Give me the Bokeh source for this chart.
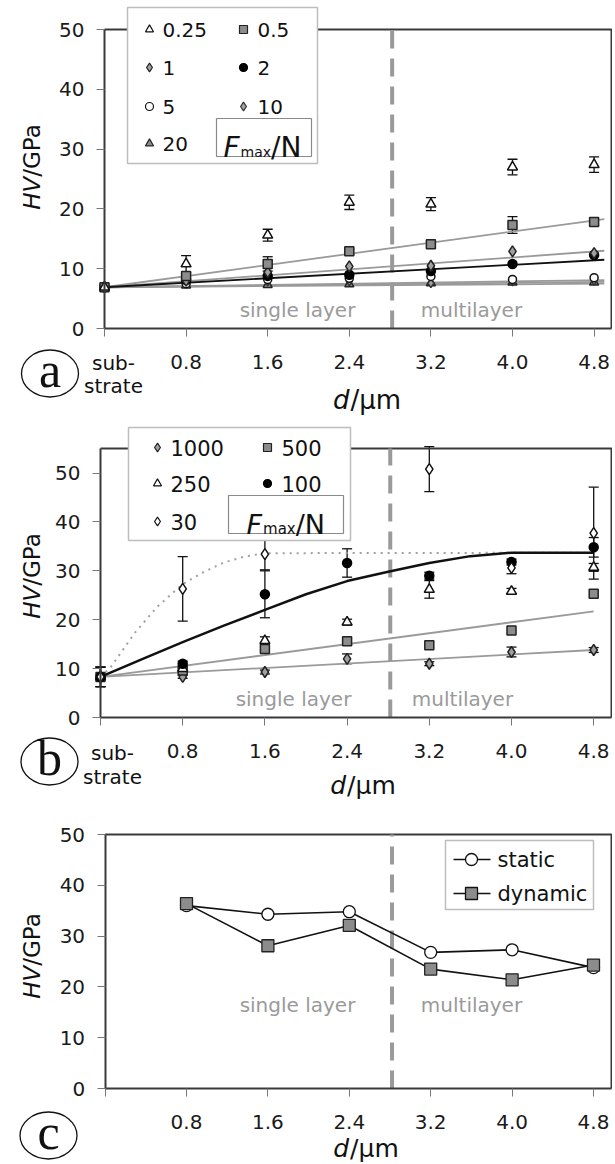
import math
from bokeh.plotting import figure
from bokeh.layouts import column
from bokeh.models import (FixedTicker, Range1d, Whisker, ColumnDataSource, TeeHead,
                          PrintfTickFormatter)
from bokeh.embed import file_html
from bokeh.resources import INLINE
from bokeh.core.properties import value

# ---------------- data ----------------
thickness = [0.0, 0.8, 1.6, 2.4, 3.2, 4.0, 4.8]          # d / um, 0 = substrate
x_ticks = [0.0, 0.8, 1.6, 2.4, 3.2, 4.0, 4.8]
x_tick_labels = ["", "0.8", "1.6", "2.4", "3.2", "4.0", "4.8"]
y_ticks = [0, 10, 20, 30, 40, 50]
interface_d = 2.82
region_labels = ["single layer", "multilayer"]

# (a)  F_max / N
loads_a = ["0.25", "0.5", "1", "2", "5", "10", "20"]
hv_a_025 = [6.9, 10.8, 15.6, 21.1, 20.8, 27.0, 27.4]
err_a_025 = [0.4, 1.4, 1.0, 1.2, 1.1, 1.3, 1.3]
hv_a_05 = [6.9, 8.8, 10.8, 12.9, 14.1, 17.3, 17.8]
err_a_05 = [0.3, 0.5, 1.2, 0.4, 0.5, 1.4, 0.5]
hv_a_1 = [6.9, 8.0, 9.4, 10.4, 10.5, 12.9, 12.6]
hv_a_2 = [6.9, 8.1, 8.8, 9.0, 9.6, 10.8, 12.3]
hv_a_5 = [6.9, 7.5, 8.2, 8.4, 8.7, 8.2, 8.5]
hv_a_10 = [6.9, 7.6, 7.9, 7.9, 7.6, 7.9, 8.0]
hv_a_20 = [6.9, 7.2, 7.3, 7.4, 7.6, 7.7, 7.7]
fit_a_x = [0.0, 4.9]
fit_a_05 = [6.9, 18.3]
fit_a_1 = [6.9, 13.0]
fit_a_2 = [6.9, 11.5]
fit_a_5 = [6.9, 8.1]
fit_a_10 = [6.9, 7.8]
fit_a_20 = [6.9, 7.5]

# (b)  F_max / N
loads_b = ["1000", "500", "250", "100", "30"]
hv_b_1000 = [8.3, 8.3, 9.3, 12.0, 11.0, 13.4, 13.8]
err_b_1000 = [2.0, 0.3, 0.4, 1.0, 0.4, 1.0, 0.5]
hv_b_500 = [8.3, 9.6, 14.0, 15.6, 14.8, 17.8, 25.3]
hv_b_250 = [8.3, 10.0, 15.7, 19.5, 26.2, 25.8, 30.7]
err_b_250 = [2.0, 0.4, 0.8, 0.6, 1.8, 0.6, 0.8]
hv_b_100 = [8.3, 11.0, 25.2, 31.6, 29.0, 31.8, 34.8]
err_b_100 = [2.0, 0.5, 4.8, 2.9, 0.7, 0.6, 2.0]
thickness_b30 = [0.0, 0.8, 1.6, 3.2, 4.0, 4.8]
hv_b_30 = [8.3, 26.3, 33.4, 50.8, 30.6, 37.7]
err_b_30 = [2.0, 6.6, 3.2, 4.6, 1.2, 9.4]
fit_b_30_x = [0.0, 0.1, 0.33, 0.55, 0.8, 1.0, 1.2, 1.4, 1.6, 4.8]
fit_b_30_y = [8.3, 10.3, 17.2, 22.6, 27.3, 29.7, 31.7, 32.9, 33.6, 33.7]
fit_b_100_x = [0.0, 0.4, 0.8, 1.2, 1.6, 2.0, 2.4, 2.8, 3.2, 3.6, 4.0, 4.8]
fit_b_100_y = [8.3, 11.9, 15.4, 18.8, 22.0, 25.2, 27.9, 29.8, 31.6, 33.0, 33.7, 33.7]
fit_b_x = [0.0, 4.8]
fit_b_500 = [8.3, 21.7]
fit_b_1000 = [8.3, 13.8]

# (c)
thickness_c = [0.8, 1.6, 2.4, 3.2, 4.0, 4.8]
hv_static = [36.0, 34.3, 34.8, 26.8, 27.3, 23.8]
hv_dynamic = [36.4, 28.1, 32.1, 23.5, 21.4, 24.3]

# ---------------- styling / layout ----------------
FONT = "DejaVu Sans"
SERIF = "Liberation Serif"
W = 612
AX = "#3a3a3a"
GREY_TXT = "#9a9a9a"
FIT = "#9a9a9a"
INK = "#111111"

# top: page y of figure top, h: figure height, x0/y0: page position of data origin,
# kx/ky: pixels per data unit
GEO_A = dict(top=0, h=418, x0=104.0, y0=328.0, kx=102.0, ky=5.98)
GEO_B = dict(top=418, h=382, x0=100.0, y0=717.0, kx=102.75, ky=4.89)
GEO_C = dict(top=800, h=362, x0=104.6, y0=1088.0, kx=101.75, ky=5.08)


def X(g, sx):
    return (sx - g["x0"]) / g["kx"]


def Y(g, sy):
    return (g["y0"] - sy) / g["ky"]


def make_panel(g, y_top):
    p = figure(width=W, height=g["h"], title=None,
               x_range=Range1d(X(g, 0), X(g, W)),
               y_range=Range1d(Y(g, g["top"] + g["h"]), Y(g, g["top"])),
               output_backend="svg", toolbar_location=None,
               min_border=0, min_border_left=0, min_border_right=0,
               min_border_top=0, min_border_bottom=0)
    p.outline_line_color = None
    p.xgrid.visible = False
    p.ygrid.visible = False
    p.background_fill_color = "white"
    p.border_fill_color = "white"
    x_edge = X(g, 611)
    for ax in (p.xaxis[0], p.yaxis[0]):
        ax.fixed_location = 0
        ax.axis_line_color = AX
        ax.axis_line_width = 2
        ax.major_tick_line_color = "#777777"
        ax.major_tick_line_width = 1
        ax.major_tick_out = 8
        ax.major_tick_in = 0
        ax.minor_tick_line_color = None
        ax.major_label_text_font = FONT
        ax.major_label_text_font_size = "20px"
        ax.major_label_text_color = "#1a1a1a"
    p.yaxis.major_label_standoff = 12
    p.xaxis.major_label_standoff = 18
    p.yaxis.ticker = FixedTicker(ticks=y_ticks)
    p.yaxis.bounds = (0, y_top)
    p.xaxis.ticker = FixedTicker(ticks=x_ticks)
    p.xaxis.formatter = PrintfTickFormatter(format="%.1f")
    p.xaxis.major_label_overrides = dict(zip(x_ticks, x_tick_labels))
    p.xaxis.bounds = (0, x_edge)
    p.line([0, x_edge, x_edge], [y_top, y_top, 0], line_color=AX, line_width=2)
    p.line([interface_d, interface_d], [0, y_top], line_color="#9a9a9a", line_width=4,
           line_dash="18 10")
    return p


def txt(p, g, sx, sy, text, size, font=FONT, **kw):
    kw.setdefault("text_color", INK)
    kw.setdefault("text_baseline", "middle")
    p.text(x=[X(g, sx)], y=[Y(g, sy)], text=[text], text_font=value(font),
           text_font_size=f"{size}px", **kw)


def region_text(p, g, sx_single, sx_multi, sy):
    for label, sx in zip(region_labels, [sx_single, sx_multi]):
        txt(p, g, sx, sy, label, 20, text_color=GREY_TXT, text_align="center")


def axis_titles(p, g, hv_cx, hv_cy, d_cx, d_cy, hv_size=23, d_size=26):
    w_hv = 1.436 * hv_size
    w_gpa = 2.328 * hv_size
    a_sy = hv_cy + (w_hv + w_gpa) / 2 - w_hv
    txt(p, g, hv_cx, a_sy, "HV", hv_size, angle=math.pi / 2, text_align="right",
        text_font_style="italic")
    txt(p, g, hv_cx, a_sy, "/GPa", hv_size, angle=math.pi / 2, text_align="left")
    w_d = 0.635 * d_size
    w_um = 1.947 * d_size
    a_sx = d_cx - (w_d + w_um) / 2 + w_d
    txt(p, g, a_sx, d_cy, "d", d_size, text_align="right", text_font_style="italic")
    txt(p, g, a_sx + 1, d_cy, "/\u03bcm", d_size, text_align="left")


def panel_letter(p, g, letter, cx, cy, w=57, h=47):
    p.ellipse(x=[X(g, cx)], y=[Y(g, cy)], width=w, height=h, width_units="screen",
              height_units="screen", fill_color=None, line_color=INK, line_width=1.3)
    txt(p, g, cx, cy - 4, letter, 50, font=SERIF, text_align="center")


def substrate_label(p, g, cx, sy1, sy2):
    txt(p, g, cx, sy1, "sub-", 20, text_align="center")
    txt(p, g, cx, sy2, "strate", 20, text_align="center")


def whiskers(p, xs, hv, err):
    src = ColumnDataSource(dict(x=xs, lo=[v - e for v, e in zip(hv, err)],
                                hi=[v + e for v, e in zip(hv, err)]))
    p.add_layout(Whisker(source=src, base="x", lower="lo", upper="hi", line_color=INK,
                         line_width=1.3,
                         upper_head=TeeHead(size=10, line_color=INK, line_width=1.3),
                         lower_head=TeeHead(size=10, line_color=INK, line_width=1.3)))


def box(p, g, l, r, t, b, color, lw):
    p.quad(left=[X(g, l)], right=[X(g, r)], top=[Y(g, t)], bottom=[Y(g, b)],
           fill_color="white", line_color=color, line_width=lw)


def fmax_box(p, g, l, r, t, b, f_left, base, big, small):
    box(p, g, l, r, t, b, "#8a8a8a", 1.2)
    wf = 0.575 * big
    wm = 2.179 * small
    txt(p, g, f_left, base, "F", big, text_font_style="italic", text_baseline="alphabetic")
    txt(p, g, f_left + wf + 1, base + 4, "max", small, text_baseline="alphabetic")
    txt(p, g, f_left + wf + wm + 1, base, "/N", big, text_baseline="alphabetic")


def legend_entries(p, g, entries, styles, font_size, msize):
    xs, ys, labels = [], [], []
    for name, mx, my, tx in entries:
        st = styles[name]
        p.scatter([X(g, mx)], [Y(g, my)], marker=st["marker"], size=msize * st["lscale"],
                  fill_color=st["fill"], line_color=st["line"], line_width=1.2)
        xs.append(X(g, tx))
        ys.append(Y(g, my))
        labels.append(name)
    p.text(x=xs, y=ys, text=labels, text_font=value(FONT), text_font_size=f"{font_size}px",
           text_baseline="middle", text_align="left", text_color=INK)


# ---------------- panel (a) ----------------
style_a = {
    "0.25": dict(marker="triangle", fill="white", line=INK, size=10, lscale=1.0),
    "0.5": dict(marker="square", fill="#8c8c8c", line="#222222", size=9, lscale=1.0),
    "1": dict(marker="diamond", fill="#a0a0a0", line="#222222", size=11, lscale=1.1),
    "2": dict(marker="circle", fill="#000000", line="#000000", size=9, lscale=1.0),
    "5": dict(marker="circle", fill="white", line=INK, size=8, lscale=1.0),
    "10": dict(marker="diamond", fill="#a0a0a0", line="#333333", size=9, lscale=1.1),
    "20": dict(marker="triangle", fill="#8c8c8c", line="#222222", size=9, lscale=1.0),
}
g = GEO_A
pa = make_panel(g, 50)
for ys in [fit_a_20, fit_a_10, fit_a_5, fit_a_1, fit_a_05]:
    pa.line(fit_a_x, ys, line_color=FIT, line_width=1.8)
pa.line(fit_a_x, fit_a_2, line_color=INK, line_width=1.8)
whiskers(pa, thickness, hv_a_025, err_a_025)
whiskers(pa, thickness, hv_a_05, err_a_05)
series_a = {"0.25": hv_a_025, "0.5": hv_a_05, "1": hv_a_1, "2": hv_a_2,
            "5": hv_a_5, "10": hv_a_10, "20": hv_a_20}
for name in ["20", "10", "5", "2", "1", "0.5", "0.25"]:
    st = style_a[name]
    pa.scatter(thickness, series_a[name], marker=st["marker"], size=st["size"],
               fill_color=st["fill"], line_color=st["line"], line_width=1.5)
region_text(pa, g, 297, 471, 309)
box(pa, g, 127, 317, 7, 163, "#bdbdbd", 1.5)
legend_entries(pa, g, [("0.25", 149, 29, 162), ("0.5", 243, 29, 257),
                       ("1", 149, 67, 162), ("2", 243, 67, 257),
                       ("5", 149, 106, 162), ("10", 243, 106, 257),
                       ("20", 149, 143, 162)], style_a, 20, 8)
fmax_box(pa, g, 216, 311, 118, 156, 223, 147, 28, 14)
axis_titles(pa, g, 31, 166, 366, 399)
substrate_label(pa, g, 113, 362, 385)
panel_letter(pa, g, "a", 49.5, 373)

# ---------------- panel (b) ----------------
style_b = {
    "1000": dict(marker="diamond", fill="#a0a0a0", line="#222222", size=11, lscale=1.1),
    "500": dict(marker="square", fill="#8c8c8c", line="#222222", size=9, lscale=1.0),
    "250": dict(marker="triangle", fill="white", line=INK, size=10, lscale=1.0),
    "100": dict(marker="circle", fill="#000000", line="#000000", size=9, lscale=1.0),
    "30": dict(marker="diamond", fill="white", line=INK, size=11, lscale=1.1),
}
g = GEO_B
pb = make_panel(g, 55)
pb.line(fit_b_30_x, fit_b_30_y, line_color="#a0a0a0", line_width=2, line_dash="2 5")
pb.line(fit_b_x, fit_b_1000, line_color=FIT, line_width=1.8)
pb.line(fit_b_x, fit_b_500, line_color=FIT, line_width=1.8)
pb.line(fit_b_100_x, fit_b_100_y, line_color=INK, line_width=2.5)
whiskers(pb, thickness, hv_b_1000, err_b_1000)
whiskers(pb, thickness, hv_b_250, err_b_250)
whiskers(pb, thickness, hv_b_100, err_b_100)
whiskers(pb, thickness_b30, hv_b_30, err_b_30)
for name, xs, hv in [("1000", thickness, hv_b_1000), ("500", thickness, hv_b_500),
                     ("250", thickness, hv_b_250), ("100", thickness, hv_b_100),
                     ("30", thickness_b30, hv_b_30)]:
    st = style_b[name]
    pb.scatter(xs, hv, marker=st["marker"], size=st["size"], fill_color=st["fill"],
               line_color=st["line"], line_width=1.5)
region_text(pb, g, 293, 462, 698)
box(pb, g, 128, 350, 427, 540, "#bdbdbd", 1.5)
legend_entries(pb, g, [("1000", 157, 447, 170), ("500", 267, 447, 281),
                       ("250", 157, 483, 170), ("100", 267, 483, 281),
                       ("30", 157, 521, 170)], style_b, 21, 8)
fmax_box(pb, g, 228, 343, 495, 533, 246, 524, 27, 15)
axis_titles(pb, g, 31, 575, 362, 785, d_size=25)
substrate_label(pb, g, 112, 752, 776)
panel_letter(pb, g, "b", 49, 761)

# ---------------- panel (c) ----------------
g = GEO_C
pc = make_panel(g, 50)
pc.line(thickness_c, hv_static, line_color=INK, line_width=1.6)
pc.line(thickness_c, hv_dynamic, line_color=INK, line_width=1.6)
pc.scatter(thickness_c, hv_static, marker="circle", size=12, fill_color="white",
           line_color=INK, line_width=1.3)
pc.scatter(thickness_c, hv_dynamic, marker="square", size=12, fill_color="#8c8c8c",
           line_color="#222222", line_width=1.3)
region_text(pc, g, 297, 471, 1004)
box(pc, g, 445, 593, 840, 909, "#bdbdbd", 1.5)
for lab, sy, mk, fc in [("static", 859, "circle", "white"), ("dynamic", 893, "square", "#8c8c8c")]:
    pc.line([X(g, 453), X(g, 490)], [Y(g, sy), Y(g, sy)], line_color=INK, line_width=1.4)
    pc.scatter([X(g, 471)], [Y(g, sy)], marker=mk, size=12, fill_color=fc,
               line_color=INK, line_width=1.3)
    txt(pc, g, 497, sy, lab, 21)
axis_titles(pc, g, 31, 955, 365, 1148, d_size=25)
panel_letter(pc, g, "c", 48, 1135)

layout = column(pa, pb, pc)
open("out.html", "w").write(file_html(layout, INLINE, "Hardness vs thickness"))
